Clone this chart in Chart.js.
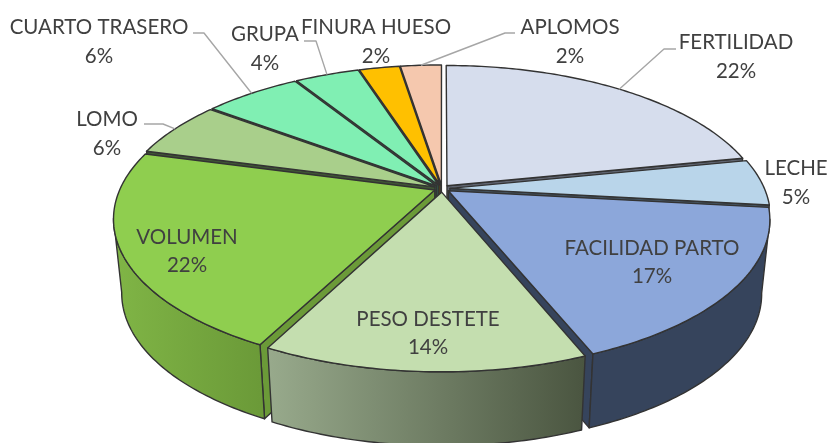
<!DOCTYPE html>
<html>
<head>
<meta charset="utf-8">
<style>
  html, body { margin: 0; padding: 0; background: #fff; }
  canvas { display: block; }
</style>
<script src="https://cdn.jsdelivr.net/npm/chart.js@4"></script>
</head>
<body>
<canvas id="pie3d" width="829" height="443"></canvas>
<script>
const categories = ['FERTILIDAD', 'LECHE', 'FACILIDAD PARTO', 'PESO DESTETE', 'VOLUMEN', 'LOMO', 'CUARTO TRASERO', 'GRUPA', 'FINURA HUESO', 'APLOMOS'];
const shares = [21.8, 5, 17.1, 13.65, 21.65, 6.05, 5.9, 3.91, 2.45, 2.49];

const topColors = ['#D6DDED', '#B9D5EA', '#8CA7DA', '#C4DEAF', '#8FCE4F', '#A9CF8B', '#80EFB3', '#80EFB3', '#FFC000', '#F5C8AE'];
// cara lateral: color izquierdo y derecho del degradado
const wallFrom = ['#5F6470', '#44525E', '#36445C', '#98AA8C', '#80B546', '#3F5535', '#33614A', '#33614A', '#7A5C00', '#8A6A58'];
const wallTo = ['#5F6470', '#44525E', '#36445C', '#4A5540', '#6B9A38', '#3F5535', '#33614A', '#33614A', '#7A5C00', '#8A6A58'];

// centro de cada texto: x, y de la categoria, y del porcentaje
const labelSpots = [[736, 42, 71], [796, 168, 197], [652, 248, 276], [428, 319, 347], [187, 237, 265],
  [107, 119, 148], [99, 27, 56], [265, 34, 63], [376, 27, 56], [570, 27, 56]];
// linea guia: inicio junto al texto y codo
const leaders = [[676, 49, 664], null, null, null, null, [144, 124, 163], [193, 33, 204], [304, 41, 316], null, [515, 33, 505]];

// camara de la vista 3D
const cam = {cx: 442, cy: 188.5, rx: 314.5, ry: 144, tilt: 0.19, depth: 74, shrink: 0.975};

function project(X, Y, low) {
  const w = 1 - cam.tilt * Y;
  const u = cam.rx * X / w, v = cam.ry * Y / w;
  return low ? [cam.cx + u * cam.shrink, cam.cy + v + cam.depth] : [cam.cx + u, cam.cy + v];
}

// punto del sector: r 0 es el vertice, r 1 el borde; incluye la separacion del sector
function slicePoint(el, a, r, low) {
  const mid = (el.startAngle + el.endAngle) / 2;
  const ex = el.options.offset / el.outerRadius;
  return project(r * Math.cos(a) + ex * Math.cos(mid), r * Math.sin(a) + ex * Math.sin(mid), low);
}

function tracePoly(ctx, pts) {
  ctx.beginPath();
  pts.forEach((p, i) => i ? ctx.lineTo(p[0], p[1]) : ctx.moveTo(p[0], p[1]));
  ctx.closePath();
}

function rimAngles(a0, a1) {
  const out = [];
  const n = Math.max(2, Math.ceil((a1 - a0) / 0.015));
  for (let i = 0; i <= n; i++) out.push(a0 + (a1 - a0) * i / n);
  return out;
}

function drawRadialWall(ctx, el, a, color) {
  tracePoly(ctx, [slicePoint(el, a, 0), slicePoint(el, a, 1), slicePoint(el, a, 1, true), slicePoint(el, a, 0, true)]);
  ctx.fillStyle = color;
  ctx.fill();
  ctx.stroke();
}

function drawSlice(ctx, el, i) {
  const s = el.startAngle, e = el.endAngle;
  ctx.lineWidth = 1.4;
  ctx.strokeStyle = '#333333';
  ctx.lineJoin = 'round';

  if (Math.cos(s) < -0.001) drawRadialWall(ctx, el, s, wallTo[i]);
  if (Math.cos(e) > 0.001) drawRadialWall(ctx, el, e, wallTo[i]);

  // pared exterior, solo la parte que mira a la camara
  const minA = Math.asin(cam.tilt), maxA = Math.PI - minA;
  const a0 = Math.max(s, minA), a1 = Math.min(e, maxA);
  if (a1 > a0) {
    const angles = rimAngles(a0, a1);
    const upper = angles.map(a => slicePoint(el, a, 1));
    const lower = angles.map(a => slicePoint(el, a, 1, true)).reverse();
    const xs = upper.map(p => p[0]);
    const grad = ctx.createLinearGradient(Math.min(...xs), 0, Math.max(...xs), 0);
    grad.addColorStop(0, wallFrom[i]);
    grad.addColorStop(1, wallTo[i]);
    tracePoly(ctx, upper.concat(lower));
    ctx.fillStyle = grad;
    ctx.fill();
    ctx.stroke();
  }

  const top = [slicePoint(el, s, 0)].concat(rimAngles(s, e).map(a => slicePoint(el, a, 1)));
  tracePoly(ctx, top);
  ctx.fillStyle = el.options.backgroundColor;
  ctx.fill();
  ctx.stroke();
}

const pie3d = {
  id: 'pie3d',
  beforeDatasetsDraw(chart) {
    const ctx = chart.ctx;
    const arcs = chart.getDatasetMeta(0).data;
    const order = arcs.map((el, i) => i).sort((p, q) =>
      Math.sin((arcs[p].startAngle + arcs[p].endAngle) / 2) - Math.sin((arcs[q].startAngle + arcs[q].endAngle) / 2));
    ctx.save();
    order.forEach(i => drawSlice(ctx, arcs[i], i));

    ctx.strokeStyle = '#A6A6A6';
    ctx.lineWidth = 1.4;
    leaders.forEach((l, i) => {
      if (!l) return;
      const el = arcs[i];
      const end = slicePoint(el, (el.startAngle + el.endAngle) / 2, 1);
      ctx.beginPath();
      ctx.moveTo(l[0], l[1]);
      ctx.lineTo(l[2], l[1]);
      ctx.lineTo(end[0], end[1]);
      ctx.stroke();
    });

    const total = shares.reduce((a, b) => a + b, 0);
    ctx.fillStyle = '#404040';
    ctx.font = '20.5px Lato';
    ctx.textAlign = 'center';
    ctx.textBaseline = 'middle';
    categories.forEach((name, i) => {
      const spot = labelSpots[i];
      ctx.fillText(name, spot[0], spot[1]);
      ctx.fillText(Math.round(shares[i] / total * 100) + '%', spot[0], spot[2]);
    });
    ctx.restore();
    return false;
  }
};

new Chart(document.getElementById('pie3d'), {
  type: 'pie',
  data: {
    labels: categories,
    datasets: [{data: shares, backgroundColor: topColors, offset: 5.5, borderWidth: 0}]
  },
  options: {
    responsive: false,
    animation: false,
    plugins: {legend: {display: false}, tooltip: {enabled: false}}
  },
  plugins: [pie3d]
});
</script>
</body>
</html>
